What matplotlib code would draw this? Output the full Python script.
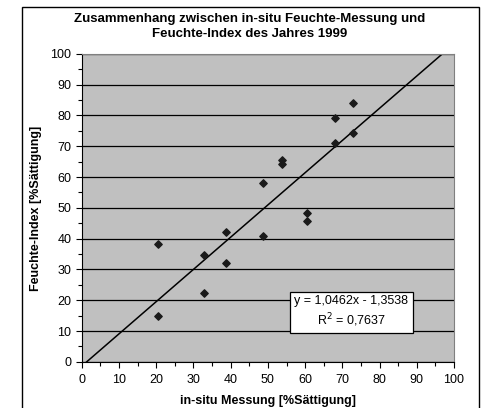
import matplotlib
matplotlib.use("Agg")
import matplotlib.pyplot as plt
import numpy as np
from matplotlib.patches import Rectangle
from matplotlib.ticker import MultipleLocator

plt.rcParams['font.family'] = ['Liberation Sans', 'DejaVu Sans']

messung = [20.6, 20.6, 32.9, 32.9, 38.8, 38.8, 48.8, 48.8,
           53.8, 53.8, 60.4, 60.4, 67.9, 67.9, 72.9, 72.9]
index = [38.4, 14.9, 34.7, 22.5, 42.1, 32.1, 58.1, 41.0,
         65.5, 64.2, 48.3, 45.6, 79.3, 70.9, 84.0, 74.4]

# trend line as stated on the chart
slope = 1.0462
intercept = -1.3538
r2 = 0.7637

fig = plt.figure(figsize=(4.84, 4.08), dpi=100)
ax = fig.add_axes([0.169, 0.113, 0.769, 0.755])

# outer chart frame
frame = Rectangle((22/484, -0.1), (479-22)/484, 1.1 - 7/408, transform=fig.transFigure,
                  fill=False, edgecolor='black', linewidth=1.0, clip_on=False)
fig.patches.append(frame)

ax.set_facecolor('#c0c0c0')
ax.set_xlim(0, 100)
ax.set_ylim(0, 100)

ax.xaxis.set_major_locator(MultipleLocator(10))
ax.xaxis.set_minor_locator(MultipleLocator(5))
ax.yaxis.set_major_locator(MultipleLocator(10))
ax.yaxis.set_minor_locator(MultipleLocator(5))
ax.tick_params(which='both', direction='out', width=0.8, labelsize=9, colors='black')
ax.tick_params(which='major', length=4)
ax.tick_params(which='minor', length=3)
ax.tick_params(axis='x', pad=5)

ax.grid(axis='y', which='major', color='black', linewidth=0.9)
ax.set_axisbelow(True)

for s in ['top', 'right']:
    ax.spines[s].set_color('#808080')
for s in ['left', 'bottom']:
    ax.spines[s].set_color('black')

# regression line
x0 = -intercept / slope
x1 = (100 - intercept) / slope
xs = np.array([x0, x1])
ax.plot(xs, slope * xs + intercept, color='black', linewidth=1.1)

ax.scatter(messung, index, marker='D', s=14, color='#1a1a1a', zorder=3)

ax.text(72.4, 16.2, "y = 1,0462x - 1,3538\nR$^2$ = 0,7637", ha='center', va='center',
        fontsize=9, linespacing=1.3,
        bbox=dict(boxstyle='square,pad=0.35', facecolor='white', edgecolor='black', linewidth=0.9),
        zorder=4)

ax.set_xlabel("in-situ Messung [%Sättigung]", fontsize=9, fontweight='bold', labelpad=6)
ax.set_ylabel("Feuchte-Index [%Sättigung]", fontsize=9, fontweight='bold', labelpad=6)

fig.text(0.515, 0.935, "Zusammenhang zwischen in-situ Feuchte-Messung und\nFeuchte-Index des Jahres 1999",
         ha='center', va='center', fontsize=9.5, fontweight='bold', linespacing=1.4)

fig.savefig("out.png", dpi=100)
